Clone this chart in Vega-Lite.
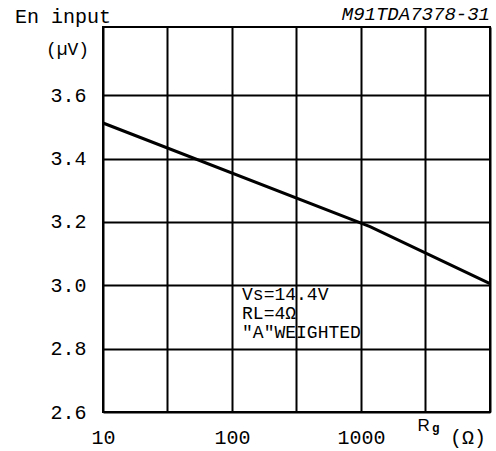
{
  "$schema": "https://vega.github.io/schema/vega-lite/v6.json",
  "autosize": {"type": "none"},
  "padding": {"left": 103, "top": 27, "right": 6, "bottom": 39},
  "width": 387,
  "height": 385,
  "background": "white",
  "config": {
    "view": {"stroke": "black", "strokeWidth": 2},
    "font": "Liberation Mono"
  },
  "layer": [
    {
      "data": {
        "values": [
          {"rg": 10, "en": 3.512},
          {"rg": 1175, "en": 3.185},
          {"rg": 10000, "en": 3.005}
        ]
      },
      "mark": {"type": "line", "color": "black", "strokeWidth": 3},
      "encoding": {
        "x": {
          "field": "rg",
          "type": "quantitative",
          "scale": {"type": "log", "domain": [10, 10000], "nice": false},
          "axis": {
            "values": [10, 31.62, 100, 316.2, 1000, 3162, 10000],
            "labelExpr": "datum.value == 10 || datum.value == 100 || datum.value == 1000 ? '' + datum.value : ''",
            "grid": true,
            "gridColor": "black",
            "gridWidth": 2,
            "gridOpacity": 1,
            "ticks": false,
            "domain": false,
            "labelFont": "Liberation Mono",
            "labelFontSize": 20,
            "labelColor": "black",
            "labelBaseline": "alphabetic",
            "labelPadding": 31,
            "labelFlush": false,
            "labelOverlap": false,
            "title": "R",
            "titleFont": "Liberation Sans",
            "titleFontSize": 17,
            "titleFontWeight": "normal",
            "titleColor": "black",
            "titleAnchor": "start",
            "titleAlign": "left",
            "titleBaseline": "alphabetic",
            "titleX": 314,
            "titleY": 18
          }
        },
        "y": {
          "field": "en",
          "type": "quantitative",
          "scale": {"domain": [2.6, 3.815], "nice": false, "zero": false},
          "axis": {
            "values": [2.6, 2.8, 3.0, 3.2, 3.4, 3.6],
            "format": ".1f",
            "grid": true,
            "gridColor": "black",
            "gridWidth": 2,
            "gridOpacity": 1,
            "ticks": false,
            "domain": false,
            "labelFont": "Liberation Mono",
            "labelFontSize": 20,
            "labelColor": "black",
            "labelPadding": 17,
            "labelBaseline": "middle",
            "labelFlush": false,
            "labelOverlap": false,
            "title": "(µV)",
            "titleFont": "Liberation Mono",
            "titleFontSize": 18,
            "titleFontWeight": "normal",
            "titleColor": "black",
            "titleAngle": 0,
            "titleAlign": "center",
            "titleBaseline": "middle",
            "titleX": -36,
            "titleY": 22
          }
        }
      }
    },
    {
      "data": {"values": [{"label": "En input"}]},
      "mark": {"type": "text", "align": "left", "baseline": "alphabetic", "font": "Liberation Mono", "fontSize": 20, "fontWeight": "normal", "color": "black"},
      "encoding": {
        "x": {"datum": 2.08, "type": "quantitative"},
        "y": {"datum": 3.828, "type": "quantitative"},
        "text": {"field": "label"}
      }
    },
    {
      "data": {"values": [{"label": "M91TDA7378-31"}]},
      "mark": {"type": "text", "align": "right", "baseline": "alphabetic", "font": "Liberation Mono", "fontSize": 19, "fontStyle": "italic", "fontWeight": "normal", "color": "black"},
      "encoding": {
        "x": {"datum": 10000, "type": "quantitative"},
        "y": {"datum": 3.837, "type": "quantitative"},
        "text": {"field": "label"}
      }
    },
    {
      "data": {"values": [{"label": "g"}]},
      "mark": {"type": "text", "align": "left", "baseline": "alphabetic", "font": "Liberation Sans", "fontSize": 12, "fontWeight": "bold", "color": "black"},
      "encoding": {
        "x": {"datum": 3560, "type": "quantitative"},
        "y": {"datum": 2.538, "type": "quantitative"},
        "text": {"field": "label"}
      }
    },
    {
      "data": {"values": [{"label": "(Ω)"}]},
      "mark": {"type": "text", "align": "left", "baseline": "alphabetic", "font": "Liberation Mono", "fontSize": 20, "fontWeight": "normal", "color": "black"},
      "encoding": {
        "x": {"datum": 4898, "type": "quantitative"},
        "y": {"datum": 2.499, "type": "quantitative"},
        "text": {"field": "label"}
      }
    },
    {
      "data": {"values": [{"label": "Vs=14.4V"}]},
      "mark": {"type": "text", "align": "left", "baseline": "alphabetic", "font": "Liberation Mono", "fontSize": 18, "fontWeight": "normal", "color": "black"},
      "encoding": {
        "x": {"datum": 119.6, "type": "quantitative"},
        "y": {"datum": 2.953, "type": "quantitative"},
        "text": {"field": "label"}
      }
    },
    {
      "data": {"values": [{"label": "RL=4Ω"}]},
      "mark": {"type": "text", "align": "left", "baseline": "alphabetic", "font": "Liberation Mono", "fontSize": 18, "fontWeight": "normal", "color": "black"},
      "encoding": {
        "x": {"datum": 119.6, "type": "quantitative"},
        "y": {"datum": 2.893, "type": "quantitative"},
        "text": {"field": "label"}
      }
    },
    {
      "data": {"values": [{"label": "\"A\"WEIGHTED"}]},
      "mark": {"type": "text", "align": "left", "baseline": "alphabetic", "font": "Liberation Mono", "fontSize": 18, "fontWeight": "normal", "color": "black"},
      "encoding": {
        "x": {"datum": 119.6, "type": "quantitative"},
        "y": {"datum": 2.833, "type": "quantitative"},
        "text": {"field": "label"}
      }
    }
  ]
}
